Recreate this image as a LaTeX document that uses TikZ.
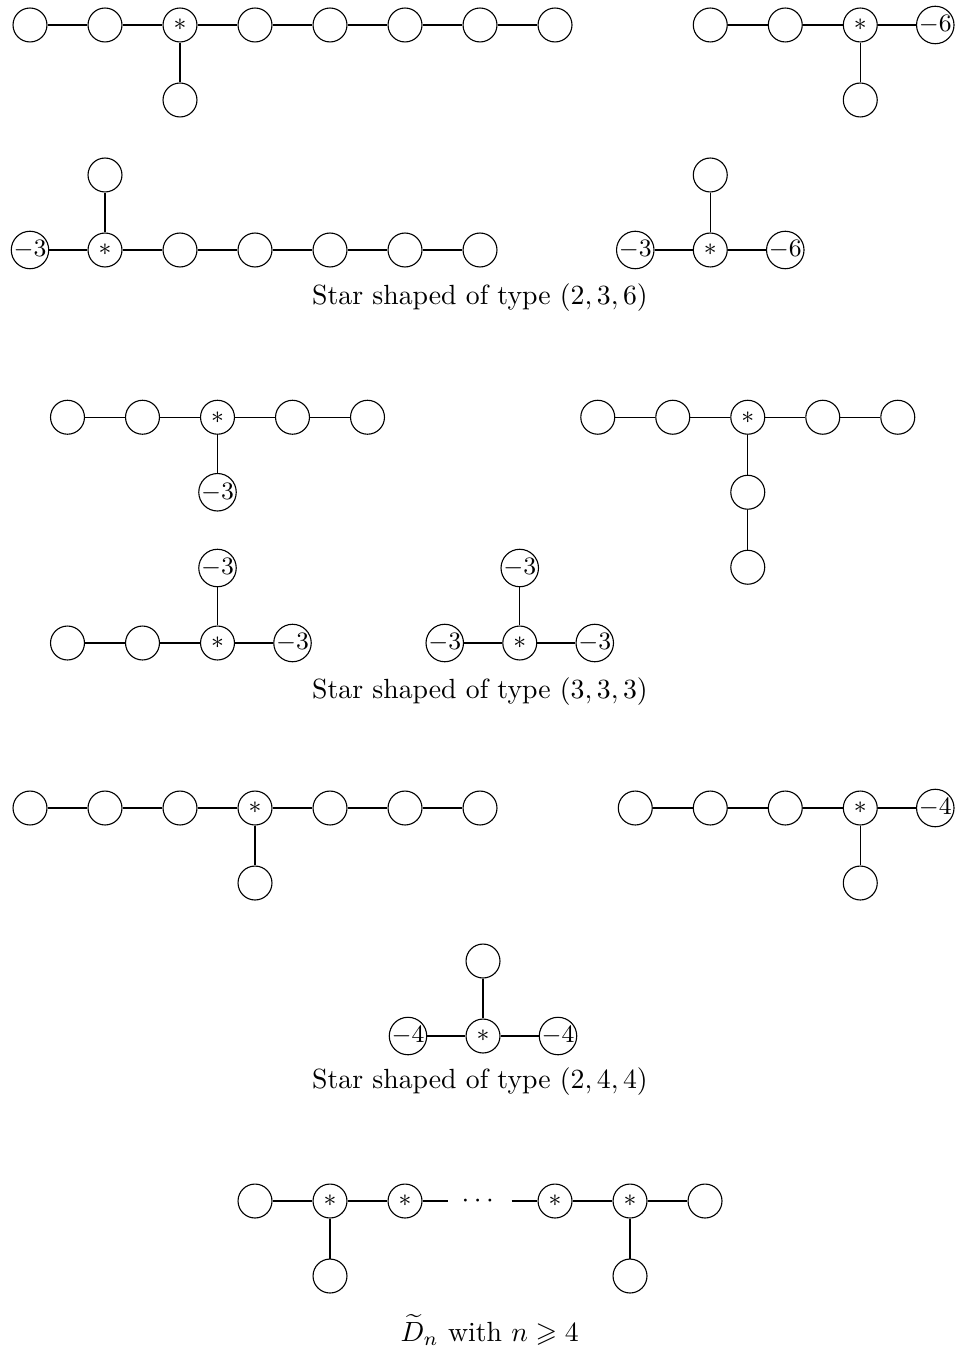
\documentclass[tikz,border=0pt]{standalone}
\usepackage{amsmath}
\usepackage{amssymb}
\usepackage{tikz}

\tikzset{
  vert/.style={circle, draw, inner sep=0pt, minimum size=0.43cm, font=\small},
  dotsnode/.style={inner sep=4.5pt},
}

\begin{document}
\begin{tikzpicture}[x=0.95cm, y=0.95cm]
    \useasboundingbox (-0.4,0.333) rectangle (12.373,-17.653);

    % Star shaped of type (2,3,6)
    \node[vert] (a0) at (0,0) {};
    \node[vert] (a1) at (1,0) {};
    \node[vert] (a2) at (2,0) {$*$};
    \node[vert] (a3) at (3,0) {};
    \node[vert] (a4) at (4,0) {};
    \node[vert] (a5) at (5,0) {};
    \node[vert] (a6) at (6,0) {};
    \node[vert] (a7) at (7,0) {};
    \node[vert] (a8) at (2,-1) {};
    \draw (a0) -- (a1) -- (a2) -- (a3) -- (a4) -- (a5) -- (a6) -- (a7);
    \draw (a2) -- (a8);

    \node[vert] (b0) at (9.07,0) {};
    \node[vert] (b1) at (10.07,0) {};
    \node[vert] (b2) at (11.07,0) {$*$};
    \node[vert] (b3) at (12.07,0) {$-6$};
    \node[vert] (b4) at (11.07,-1) {};
    \draw (b0) -- (b1) -- (b2) -- (b3);
    \draw (b2) -- (b4);

    \node[vert] (c0) at (0,-3) {$-3$};
    \node[vert] (c1) at (1,-3) {$*$};
    \node[vert] (c2) at (2,-3) {};
    \node[vert] (c3) at (3,-3) {};
    \node[vert] (c4) at (4,-3) {};
    \node[vert] (c5) at (5,-3) {};
    \node[vert] (c6) at (6,-3) {};
    \node[vert] (c7) at (1,-2) {};
    \draw (c0) -- (c1) -- (c2) -- (c3) -- (c4) -- (c5) -- (c6);
    \draw (c1) -- (c7);

    \node[vert] (d0) at (8.07,-3) {$-3$};
    \node[vert] (d1) at (9.07,-3) {$*$};
    \node[vert] (d2) at (10.07,-3) {$-6$};
    \node[vert] (d3) at (9.07,-2) {};
    \draw (d0) -- (d1) -- (d2);
    \draw (d1) -- (d3);

    \node (cap1) at (6,-3.63) {Star shaped of type $(2,3,6)$};

    % Star shaped of type (3,3,3)
    \node[vert] (e0) at (0.5,-5.23) {};
    \node[vert] (e1) at (1.5,-5.23) {};
    \node[vert] (e2) at (2.5,-5.23) {$*$};
    \node[vert] (e3) at (3.5,-5.23) {};
    \node[vert] (e4) at (4.5,-5.23) {};
    \node[vert] (e5) at (2.5,-6.23) {$-3$};
    \draw (e0) -- (e1) -- (e2) -- (e3) -- (e4);
    \draw (e2) -- (e5);

    \node[vert] (f0) at (7.57,-5.23) {};
    \node[vert] (f1) at (8.57,-5.23) {};
    \node[vert] (f2) at (9.57,-5.23) {$*$};
    \node[vert] (f3) at (10.57,-5.23) {};
    \node[vert] (f4) at (11.57,-5.23) {};
    \node[vert] (f5) at (9.57,-6.23) {};
    \node[vert] (f6) at (9.57,-7.23) {};
    \draw (f0) -- (f1) -- (f2) -- (f3) -- (f4);
    \draw (f2) -- (f5) -- (f6);

    \node[vert] (g0) at (0.5,-8.24) {};
    \node[vert] (g1) at (1.5,-8.24) {};
    \node[vert] (g2) at (2.5,-8.24) {$*$};
    \node[vert] (g3) at (3.5,-8.24) {$-3$};
    \node[vert] (g4) at (2.5,-7.24) {$-3$};
    \draw (g0) -- (g1) -- (g2) -- (g3);
    \draw (g2) -- (g4);

    \node[vert] (h0) at (5.53,-8.24) {$-3$};
    \node[vert] (h1) at (6.53,-8.24) {$*$};
    \node[vert] (h2) at (7.53,-8.24) {$-3$};
    \node[vert] (h3) at (6.53,-7.24) {$-3$};
    \draw (h0) -- (h1) -- (h2);
    \draw (h1) -- (h3);

    \node (cap2) at (6,-8.89) {Star shaped of type $(3,3,3)$};

    % Star shaped of type (2,4,4)
    \node[vert] (i0) at (0,-10.44) {};
    \node[vert] (i1) at (1,-10.44) {};
    \node[vert] (i2) at (2,-10.44) {};
    \node[vert] (i3) at (3,-10.44) {$*$};
    \node[vert] (i4) at (4,-10.44) {};
    \node[vert] (i5) at (5,-10.44) {};
    \node[vert] (i6) at (6,-10.44) {};
    \node[vert] (i7) at (3,-11.44) {};
    \draw (i0) -- (i1) -- (i2) -- (i3) -- (i4) -- (i5) -- (i6);
    \draw (i3) -- (i7);

    \node[vert] (j0) at (8.07,-10.44) {};
    \node[vert] (j1) at (9.07,-10.44) {};
    \node[vert] (j2) at (10.07,-10.44) {};
    \node[vert] (j3) at (11.07,-10.44) {$*$};
    \node[vert] (j4) at (12.07,-10.44) {$-4$};
    \node[vert] (j5) at (11.07,-11.44) {};
    \draw (j0) -- (j1) -- (j2) -- (j3) -- (j4);
    \draw (j3) -- (j5);

    \node[vert] (k0) at (5.04,-13.48) {$-4$};
    \node[vert] (k1) at (6.04,-13.48) {$*$};
    \node[vert] (k2) at (7.04,-13.48) {$-4$};
    \node[vert] (k3) at (6.04,-12.48) {};
    \draw (k0) -- (k1) -- (k2);
    \draw (k1) -- (k3);

    \node (cap3) at (6,-14.09) {Star shaped of type $(2,4,4)$};

    % D_n tilde
    \node[vert] (l0) at (3,-15.68) {};
    \node[vert] (l1) at (4,-15.68) {$*$};
    \node[vert] (l2) at (5,-15.68) {$*$};
    \node[dotsnode] (ld) at (6,-15.68) {$\cdots$};
    \node[vert] (l3) at (7,-15.68) {$*$};
    \node[vert] (l4) at (8,-15.68) {$*$};
    \node[vert] (l5) at (9,-15.68) {};
    \node[vert] (l6) at (4,-16.68) {};
    \node[vert] (l7) at (8,-16.68) {};
    \draw (l0) -- (l1) -- (l2) -- (ld) -- (l3) -- (l4) -- (l5);
    \draw (l1) -- (l6);
    \draw (l4) -- (l7);

    \node (cap4) at (6.13,-17.4) {$\widetilde{D}_n$ with $n \geqslant 4$};
\end{tikzpicture}
\end{document}
